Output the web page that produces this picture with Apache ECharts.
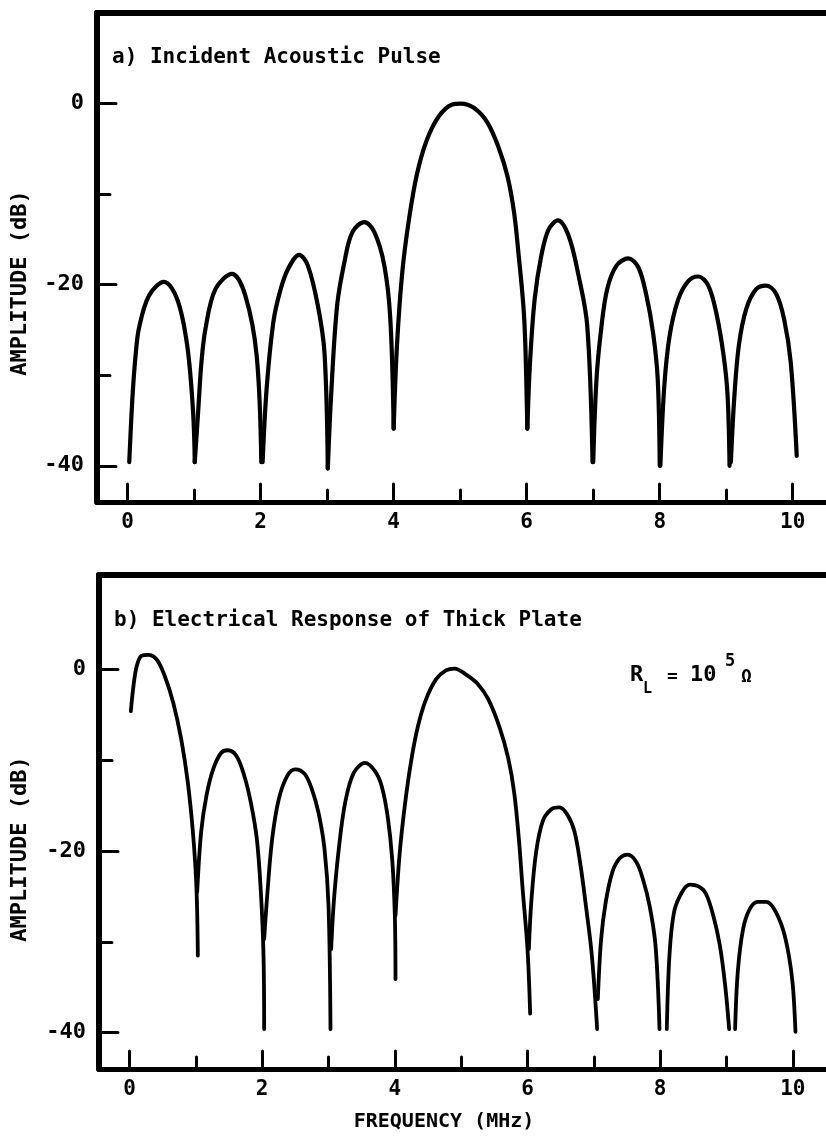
<!DOCTYPE html>
<html>
<head>
<meta charset="utf-8">
<title>Incident Acoustic Pulse / Electrical Response of Thick Plate</title>
<script src="https://cdn.jsdelivr.net/npm/echarts@6/dist/echarts.min.js"></script>
<style>
  html, body { margin: 0; padding: 0; background: #fff; }
  #chart { width: 826px; height: 1143px; }
</style>
</head>
<body>
<div id="chart"></div>
<script>
// Spectrum of the incident pulse: [frequency MHz, amplitude dB]; null = pen lift
const incidentPulse = [
  [0.025, -39.6], [0.075, -32.2], [0.124, -27.5], [0.174, -24.7], [0.323, -21.2], [0.547, -19.7], [0.746, -21.6], [0.896, -26.7], [0.985, -34.1], [1.01, -39.6],
  null,
  [1.01, -39.6], [1.06, -34.1], [1.11, -28.6], [1.17, -24.9], [1.32, -20.5], [1.57, -18.8], [1.77, -21.2], [1.94, -27.8], [2.01, -39.6],
  null,
  [2.03, -39.6], [2.09, -31.5], [2.19, -24.2], [2.29, -20.8], [2.41, -18.3], [2.58, -16.7], [2.71, -17.9], [2.86, -22.3], [2.96, -27.5], [3.01, -40.3],
  null,
  [3.01, -40.3], [3.06, -32.2], [3.15, -22.3], [3.26, -17.5], [3.38, -14.2], [3.56, -13.1], [3.71, -14.2], [3.86, -17.9], [3.95, -23.8], [4.0, -35.9],
  null,
  [4.0, -35.9], [4.05, -26.7], [4.13, -18.6], [4.23, -12.8], [4.35, -7.8], [4.5, -4.0], [4.68, -1.4], [4.88, -0.1], [5.01, 0.0],
  [5.21, -0.5], [5.41, -2.1], [5.58, -4.9], [5.71, -8.0], [5.81, -12.0], [5.88, -16.8], [5.95, -22.3], [5.98, -26.7], [6.01, -35.9],
  null,
  [6.01, -35.9], [6.05, -28.6], [6.12, -21.6], [6.22, -16.8], [6.33, -13.9], [6.47, -12.9], [6.63, -14.6], [6.78, -19.0], [6.91, -24.5], [6.99, -39.6],
  null,
  [7.0, -39.6], [7.05, -30.4], [7.12, -24.9], [7.21, -20.5], [7.35, -17.9], [7.53, -17.1], [7.68, -18.1], [7.8, -21.2], [7.9, -25.3], [7.97, -30.4], [8.0, -40.0],
  null,
  [8.01, -40.0], [8.07, -31.1], [8.15, -25.6], [8.28, -21.6], [8.43, -19.6], [8.58, -19.1], [8.73, -20.1], [8.85, -23.1], [8.96, -27.8], [9.02, -32.2], [9.05, -40.0],
  null,
  [9.07, -39.6], [9.12, -32.6], [9.19, -26.7], [9.3, -22.7], [9.45, -20.5], [9.6, -20.1], [9.75, -21.0], [9.87, -23.8], [9.97, -28.6], [10.06, -38.9]
];

// Electrical response of the thick plate, R_L = 10^5 ohm
const plateResponse = [
  [0.02, -4.6], [0.06, -1.8], [0.11, 0.4], [0.18, 1.5], [0.28, 1.6], [0.41, 1.1], [0.53, -0.7], [0.66, -3.7], [0.78, -7.7], [0.88, -12.5], [0.96, -18.3], [1.01, -24.2], [1.03, -31.5],
  null,
  [1.02, -24.5], [1.08, -17.9], [1.16, -13.9], [1.26, -11.0], [1.38, -9.2], [1.48, -8.9], [1.61, -9.5], [1.73, -11.7], [1.83, -14.7], [1.92, -18.7], [1.98, -24.5], [2.02, -31.5], [2.03, -39.6],
  null,
  [2.03, -29.7], [2.08, -24.5], [2.15, -18.7], [2.25, -14.3], [2.38, -11.7], [2.5, -11.0], [2.64, -11.5], [2.75, -13.2], [2.85, -15.8], [2.94, -19.8], [3.0, -26.0], [3.03, -39.6],
  null,
  [3.04, -30.8], [3.08, -25.6], [3.15, -20.1], [3.25, -14.7], [3.38, -11.4], [3.55, -10.3], [3.7, -11.2], [3.8, -12.8], [3.89, -16.1], [3.96, -20.9], [4.0, -27.1], [4.01, -34.1],
  null,
  [4.01, -27.1], [4.07, -20.5], [4.15, -15.0], [4.25, -9.9], [4.35, -6.2], [4.47, -3.3], [4.62, -1.1], [4.77, -0.1], [4.9, 0.1],
  [5.08, -0.6], [5.25, -1.6], [5.41, -3.3], [5.58, -6.4], [5.71, -9.8], [5.8, -13.6], [5.87, -18.7], [5.93, -24.5], [6.0, -30.8], [6.04, -37.9],
  null,
  [6.02, -30.8], [6.06, -25.3], [6.13, -20.1], [6.23, -16.7], [6.36, -15.4], [6.48, -15.2], [6.61, -16.1], [6.71, -17.9], [6.8, -21.6], [6.88, -26.0], [6.97, -31.5], [7.05, -39.6],
  null,
  [7.06, -36.3], [7.11, -29.7], [7.18, -25.6], [7.28, -22.3], [7.39, -20.8], [7.51, -20.4], [7.64, -21.2], [7.74, -23.1], [7.84, -26.0], [7.93, -30.4], [7.99, -39.6],
  null,
  [8.1, -39.6], [8.14, -31.5], [8.21, -26.7], [8.33, -24.5], [8.45, -23.7], [8.58, -23.9], [8.69, -24.7], [8.8, -27.1], [8.9, -30.4], [8.98, -34.8], [9.04, -39.6],
  null,
  [9.13, -39.6], [9.17, -33.3], [9.25, -28.6], [9.35, -26.4], [9.47, -25.6], [9.6, -25.6], [9.72, -26.4], [9.85, -28.6], [9.94, -31.5], [10.0, -34.8], [10.04, -39.9]
];

// Axis ticks and labels
const freqLabels = [0, 2, 4, 6, 8, 10];
const freqMinorTicks = [1, 3, 5, 7, 9];
const ampLabels = [0, -20, -40];
const ampMinorTicks = [-10, -30];

const FONT = '"DejaVu Sans Mono", "Liberation Mono", monospace';
const INK = '#000';
const FREQ_MIN = -0.46;
const FREQ_MAX = 10.5;

// Split a pen-lift separated list into drawable segments
function segments(points) {
  const out = [];
  let cur = [];
  points.forEach(p => {
    if (p === null) { if (cur.length) out.push(cur); cur = []; }
    else cur.push(p);
  });
  if (cur.length) out.push(cur);
  return out;
}

const frameLine = { show: true, onZero: false, lineStyle: { color: INK, width: 5, cap: 'round' } };
const hiddenLine = { show: false, onZero: false };
const tickStyle = { color: INK, width: 3, cap: 'round' };

function freqAxes(gridIndex) {
  const base = { type: 'value', gridIndex, min: FREQ_MIN, max: FREQ_MAX, splitLine: { show: false } };
  return [
    // bottom axis with labelled ticks
    Object.assign({}, base, {
      position: 'bottom',
      axisLine: frameLine,
      axisTick: { show: true, inside: true, length: 18, customValues: freqLabels, lineStyle: tickStyle },
      axisLabel: { show: true, customValues: freqLabels, margin: 10, color: INK,
        fontFamily: FONT, fontWeight: 'bold', fontSize: 21 }
    }),
    // shorter odd-MHz ticks
    Object.assign({}, base, {
      position: 'bottom',
      axisLine: hiddenLine,
      axisTick: { show: true, inside: true, length: 12, customValues: freqMinorTicks, lineStyle: tickStyle },
      axisLabel: { show: false }
    }),
    // top edge of the frame
    Object.assign({}, base, {
      position: 'top',
      axisLine: { show: true, onZero: false, lineStyle: { color: INK, width: 6, cap: 'round' } },
      axisTick: { show: false },
      axisLabel: { show: false }
    })
  ];
}

function ampAxes(gridIndex, max) {
  const base = { type: 'value', gridIndex, min: -44, max, position: 'left', splitLine: { show: false } };
  return [
    Object.assign({}, base, {
      axisLine: { show: true, onZero: false, lineStyle: { color: INK, width: 6, cap: 'round' } },
      axisTick: { show: true, inside: true, length: 19, customValues: ampLabels, lineStyle: tickStyle },
      axisLabel: { show: true, customValues: ampLabels, margin: 13, color: INK,
        fontFamily: FONT, fontWeight: 'bold', fontSize: 22 }
    }),
    Object.assign({}, base, {
      axisLine: hiddenLine,
      axisTick: { show: true, inside: true, length: 13, customValues: ampMinorTicks, lineStyle: tickStyle },
      axisLabel: { show: false }
    })
  ];
}

function curveSeries(points, xIndex, yIndex, width) {
  return segments(points).map(seg => ({
    type: 'line',
    xAxisIndex: xIndex,
    yAxisIndex: yIndex,
    data: seg,
    showSymbol: false,
    smooth: 0.35,
    silent: true,
    lineStyle: { color: INK, width, cap: 'round', join: 'round' }
  }));
}

function label(text, x, y, size, opts) {
  opts = opts || {};
  return {
    type: 'text', x, y, silent: true, rotation: opts.rotation || 0,
    style: { text, fill: INK, font: 'bold ' + size + 'px ' + FONT,
      align: opts.align || 'left', verticalAlign: 'middle' }
  };
}

const chart = echarts.init(document.getElementById('chart'), null, { renderer: 'canvas' });

chart.setOption({
  animation: false,
  backgroundColor: '#fff',
  grid: [
    { left: 97, top: 13, width: 733, height: 489 },
    { left: 99, top: 575, width: 731.5, height: 494 }
  ],
  xAxis: [...freqAxes(0), ...freqAxes(1)],
  yAxis: [...ampAxes(0, 10), ...ampAxes(1, 10.4)],
  series: [
    ...curveSeries(incidentPulse, 0, 0, 4.2),
    ...curveSeries(plateResponse, 3, 2, 3.8)
  ],
  graphic: [
    label('a) Incident Acoustic Pulse', 112, 58, 21),
    label('b) Electrical Response of Thick Plate', 114, 621, 21),
    label('AMPLITUDE (dB)', 20, 283, 22, { rotation: Math.PI / 2, align: 'center' }),
    label('AMPLITUDE (dB)', 20, 849, 22, { rotation: Math.PI / 2, align: 'center' }),
    label('FREQUENCY (MHz)', 444, 1122, 20, { align: 'center' }),
    // R_L = 10^5 Ω
    label('R', 630, 675, 22),
    label('L', 643, 689, 15),
    label('=', 667, 677, 18),
    label('10', 690, 675, 22),
    label('5', 725, 662, 17),
    label('Ω', 741, 677, 18)
  ]
});
</script>
</body>
</html>
